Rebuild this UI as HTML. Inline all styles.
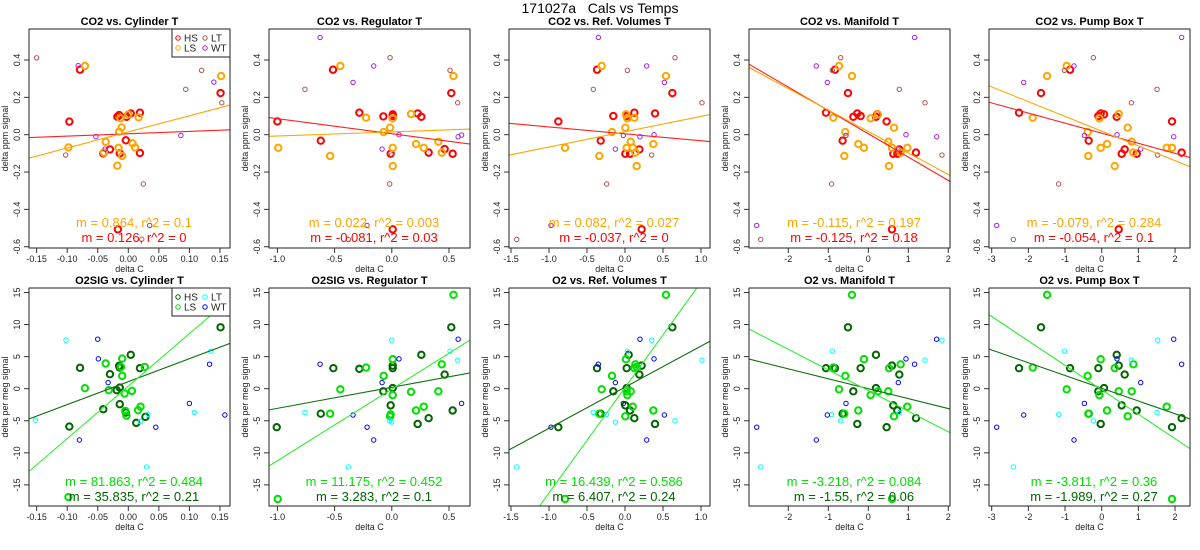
<!DOCTYPE html>
<html><head><meta charset="utf-8">
<style>
html,body{margin:0;padding:0;background:#fff;}
svg{display:block;font-family:"Liberation Sans",Arial,sans-serif;}
</style></head>
<body>
<svg id="chart" width="1200" height="550" viewBox="0 0 1200 550" xmlns="http://www.w3.org/2000/svg">
<rect width="1200" height="550" fill="#fff"/>
<text x="600" y="13" font-size="14" text-anchor="middle" style="white-space:pre" xml:space="preserve">171027a   Cals vs Temps</text>
</svg>
<script>
const panelTitles = [
 ["CO2 vs. Cylinder T","CO2 vs. Regulator T","CO2 vs. Ref. Volumes T","CO2 vs. Manifold T","CO2 vs. Pump Box T"],
 ["O2SIG vs. Cylinder T","O2SIG vs. Regulator T","O2 vs. Ref. Volumes T","O2 vs. Manifold T","O2 vs. Pump Box T"]];
const xTickLabels = [
 ["-0.15","-0.10","-0.05","0.00","0.05","0.10","0.15"],
 ["-1.0","-0.5","0.0","0.5"],
 ["-1.5","-1.0","-0.5","0.0","0.5","1.0"],
 ["-2","-1","0","1","2"],
 ["-3","-2","-1","0","1","2"]];
const yTicksTop = [-0.6,-0.4,-0.2,0.0,0.2,0.4];
const yTicksBottom = [-15,-10,-5,0,5,10,15];
const seriesNamesTop = ["HS","LS","LT","WT"];
const seriesNamesBottom = ["HS","LS","LT","WT"];
const fitLines = [
 [[[0.126,0.005],[0.864,0.015]],[[-0.081,0.005],[0.022,0.015]],[[-0.037,0.0045],[0.082,0.016]],[[-0.125,0.005],[-0.115,0.017]],[[-0.054,0.008],[-0.079,0.019]]],
 [[[35.835,1.1],[81.863,0.4]],[[3.283,0.22],[11.175,-0.06]],[[6.407,0.24],[16.439,0.17]],[[-1.55,0],[-3.218,-0.29]],[[-1.989,0.07],[-3.811,-0.17]]]];
const statsLS = [
 ["m = 0.864, r^2 = 0.1","m = 0.022, r^2 = 0.003","m = 0.082, r^2 = 0.027","m = -0.115, r^2 = 0.197","m = -0.079, r^2 = 0.284"],
 ["m = 81.863, r^2 = 0.484","m = 11.175, r^2 = 0.452","m = 16.439, r^2 = 0.586","m = -3.218, r^2 = 0.084","m = -3.811, r^2 = 0.36"]];
const statsHS = [
 ["m = 0.126, r^2 = 0","m = -0.081, r^2 = 0.03","m = -0.037, r^2 = 0","m = -0.125, r^2 = 0.18","m = -0.054, r^2 = 0.1"],
 ["m = 35.835, r^2 = 0.21","m = 3.283, r^2 = 0.1","m = 6.407, r^2 = 0.24","m = -1.55, r^2 = 0.06","m = -1.989, r^2 = 0.27"]];

const top0HS=[[-0.079,0.348],[-0.0965,0.07],[-0.041,-0.1],[-0.03,-0.079],[-0.015,0.105],[-0.018,0.096],[-0.014,-0.1],[-0.004,-0.03],[-0.003,0.096],[0.004,0.114],[0.019,0.118],[0.019,-0.098],[0.151,0.223],[-0.017,-0.507]];
const top0LS=[[-0.071,0.368],[-0.098,-0.068],[-0.037,-0.038],[-0.04,-0.096],[-0.016,-0.07],[-0.015,0.016],[-0.011,0.039],[-0.013,0.088],[-0.01,-0.114],[-0.018,-0.166],[0,0.109],[0.017,0.093],[0.007,-0.046],[0.011,-0.068],[0.152,0.314]];
const top0LT=[[-0.15,0.412],[-0.1025,-0.109],[0.0245,-0.264],[0.094,0.243],[0.12,0.345],[0.153,0.171],[0.022,-0.56]];
const top0WT=[[-0.082,0.37],[-0.053,-0.01],[-0.038,-0.077],[0.086,-0.004],[0.14,0.282],[0.035,-0.486]];
const top1HS=[[-0.514,0.348],[-1.0,0.071],[-0.621,-0.032],[-0.284,0.118],[-0.074,0.098],[0.008,0.109],[0.008,0.1],[-0.01,-0.102],[0.226,0.114],[0.258,0.096],[0.322,-0.096],[0.462,-0.077],[0.532,-0.102],[0.52,0.223],[0.008,-0.507]];
const top1LS=[[-0.45,0.368],[-0.992,-0.07],[-0.539,-0.114],[-0.225,0.091],[-0.071,0.014],[-0.015,0.0375],[0.008,0.0875],[0.008,-0.07],[0.008,-0.168],[0.168,0.111],[0.212,-0.05],[0.279,-0.07],[0.407,-0.0375],[0.437,-0.096],[0.539,0.314]];
const top1LT=[[-0.015,0.4125],[-0.759,0.243],[0.509,0.345],[0.576,0.171],[-0.018,-0.264],[-0.001,-0.109],[-0.38,-0.561]];
const top1WT=[[-0.627,0.521],[-0.158,0.368],[-0.339,0.28],[0.063,0],[-0.085,-0.077],[0.58,-0.011],[0.61,-0.002],[-0.216,-0.486]];
const top2HS=[[-0.368,0.348],[-0.877,0.071],[-0.32,-0.032],[-0.154,0.1],[0.004,-0.102],[0.066,-0.102],[0.123,0.118],[0.395,0.114],[0.189,-0.079],[0.022,0.1],[0.623,0.223],[0.219,-0.507]];
const top2LS=[[-0.307,0.368],[-0.789,-0.07],[-0.338,-0.114],[-0.171,0.014],[0.004,0.0375],[0.013,0.109],[0.031,0.0875],[0.123,0.091],[0.075,-0.0375],[0.022,-0.07],[0.101,-0.07],[0.136,-0.096],[0.154,-0.168],[0.373,-0.05],[0.539,0.314]];
const top2LT=[[0.658,0.4125],[0.031,0.345],[-0.417,0.243],[1.013,0.171],[0.351,-0.109],[-0.241,-0.264],[-1.425,-0.561]];
const top2WT=[[-0.351,0.521],[0.285,0.368],[0.518,0.28],[-0.022,-0.004],[0.197,-0.011],[0.382,0],[-0.127,-0.077],[-0.974,-0.486]];
const top3HS=[[-0.833,0.348],[-1.058,0.118],[-0.508,0.223],[-0.375,0.096],[-0.275,0.114],[-0.192,0.1],[0.192,0.096],[0.225,0.109],[0.458,0.071],[-0.642,-0.032],[0.625,-0.102],[0.725,-0.102],[0.775,-0.079],[1.192,-0.096],[0.592,-0.507]];
const top3LS=[[-0.733,0.368],[-0.408,0.314],[-0.875,0.091],[-0.575,0.014],[-0.6,-0.114],[-0.25,-0.05],[-0.108,-0.07],[0.058,0.0875],[0.242,0.109],[0.642,0.0375],[0.5,-0.0375],[0.592,-0.07],[0.975,-0.07],[0.808,-0.096],[0.517,-0.168]];
const top3LT=[[-0.692,0.4125],[-0.9,0.345],[0.775,0.243],[1.417,0.171],[1.842,-0.109],[-0.917,-0.264],[-2.69,-0.561]];
const top3WT=[[1.158,0.521],[-1.3,0.368],[-1.025,0.28],[-0.558,-0.004],[0.942,0],[1.708,-0.011],[0.75,-0.077],[-2.79,-0.486]];
const top4HS=[[-0.864,0.348],[-2.255,0.118],[-1.655,0.223],[-0.091,0.1],[-0.027,0.114],[0.064,0.109],[0.409,0.096],[1.918,0.071],[-0.355,-0.032],[0.545,-0.102],[0.627,-0.079],[0.955,-0.102],[2.18,-0.096],[0.464,-0.507]];
const top4LS=[[-0.955,0.368],[-1.49,0.314],[-1.88,0.091],[-0.382,0.014],[-0.364,-0.114],[-0.064,0.0875],[0.464,0.111],[0.709,0.0375],[-0.027,-0.07],[0.145,-0.05],[0.818,-0.0375],[0.864,-0.096],[1.773,-0.07],[1.918,-0.07],[0.355,-0.168]];
const top4LT=[[-0.227,0.4125],[-1.018,0.345],[1.509,0.243],[0.809,0.171],[1.527,-0.109],[-1.173,-0.264],[-2.41,-0.561]];
const top4WT=[[2.18,0.521],[-0.755,0.368],[-2.127,0.28],[0.418,0],[-0.473,-0.004],[1.964,-0.011],[1.064,-0.077],[-2.864,-0.486]];

const bot0HS=[[0.151,9.58],[-0.079,3.25],[-0.0965,-5.9],[-0.041,-3.2],[-0.03,2.26],[-0.015,3.56],[-0.014,3.3],[-0.014,0.18],[-0.014,-2.42],[-0.019,-0.23],[-0.004,-3.72],[0.004,5.28],[0.019,3.2],[0.013,-5.33],[0.028,-4.39]];
const bot0LS=[[-0.071,0.08],[-0.098,-16.9],[-0.037,3.93],[-0.032,-0.23],[-0.01,4.7],[-0.01,2.0],[-0.006,-0.75],[-0.012,3.4],[-0.005,-3.46],[-0.003,-4.19],[0.006,-0.34],[0.027,3.4],[0.016,-3.35],[0.02,-2.8]];
const bot0LT=[[-0.102,7.57],[-0.152,-4.9],[0.135,5.85],[0.17,4.45],[0.108,-3.7],[0.03,-12.2],[0.02,-5.1],[0.032,-4.0]];
const bot0WT=[[-0.05,7.72],[-0.049,4.65],[-0.033,0.95],[-0.08,-8.0],[0.1,-2.3],[0.133,3.82],[0.158,-4.1],[0.045,-6.0]];
const bot1HS=[[-1.006,-6.0],[-0.621,-3.9],[-0.511,3.2],[-0.284,3.1],[-0.074,-0.4],[-0.01,-2.6],[0.008,3.6],[0.008,0.1],[0.258,5.28],[0.226,-5.5],[0.322,-4.6],[0.462,2.2],[0.52,9.58],[0.532,-3.4],[0.008,3.2]];
const bot1LS=[[-0.997,-17.2],[-0.539,-3.9],[-0.45,-0.1],[-0.225,3.3],[-0.071,2.0],[-0.015,-4.3],[0.008,4.6],[0.008,-1.0],[0.168,-0.5],[0.212,-3.4],[0.279,-2.8],[0.407,-0.4],[0.437,3.8],[0.539,14.64],[-0.01,-4.0]];
const bot1LT=[[0,7.57],[-0.759,-3.7],[0.509,5.85],[0.576,4.45],[-0.018,-5.0],[-0.38,-12.2],[0.0,-5.2]];
const bot1WT=[[-0.627,3.82],[-0.158,-8.0],[-0.339,-4.1],[0.063,4.65],[-0.085,0.95],[0.58,7.72],[0.61,-2.3],[-0.216,-6.0]];
const bot2HS=[[-0.877,-6.0],[-0.368,3.2],[-0.32,-3.9],[-0.154,-0.4],[0.004,-2.6],[0.022,3.2],[0.048,5.28],[0.022,0.1],[0.066,-3.4],[0.123,-4.6],[0.189,2.2],[0.219,3.6],[0.395,-5.5],[0.623,9.58]];
const bot2LS=[[-0.789,-17.2],[-0.307,-0.1],[-0.338,-3.9],[-0.171,2.0],[0.004,-4.3],[0.013,4.6],[0.031,-1.0],[0.022,-0.4],[0.075,-0.4],[0.101,-2.8],[0.136,3.8],[0.123,3.2],[0.373,-3.4],[0.539,14.64],[0.154,3.4]];
const bot2LT=[[0.031,5.85],[0.351,7.57],[1.013,4.45],[0.658,-5.0],[-0.417,-3.7],[-0.127,-5.2],[-1.425,-12.2],[-0.241,-4.0]];
const bot2WT=[[-0.351,3.82],[0.197,7.72],[0.382,4.65],[-0.127,0.95],[-0.022,-2.3],[0.285,-8.0],[0.518,-4.1],[-0.974,-6.0]];
const bot3HS=[[-0.508,9.58],[-1.058,3.2],[-0.833,3.2],[-0.192,3.2],[0.192,5.28],[0.592,3.6],[0.775,2.2],[-0.375,-0.4],[0.192,0.1],[0.625,-2.6],[0.725,-3.4],[1.192,-4.6],[-0.642,-3.9],[-0.275,-5.5],[0.458,-6.0]];
const bot3LS=[[-0.408,14.64],[-0.875,3.3],[-0.108,4.6],[-0.575,2.0],[-0.733,-0.1],[0.058,-1.0],[0.242,-0.4],[0.5,-0.4],[0.517,3.2],[0.808,3.8],[0.975,-2.8],[-0.6,-3.9],[-0.25,-3.4],[0.642,-4.3],[0.592,-17.2]];
const bot3LT=[[-0.9,5.85],[1.842,7.57],[1.417,4.45],[0.775,-3.7],[-0.692,-5.0],[-2.69,-12.2],[-0.917,-4.0]];
const bot3WT=[[1.708,7.72],[0.942,4.65],[1.158,3.82],[0.75,0.95],[-0.558,-2.3],[-1.025,-4.1],[-2.79,-6.0],[-1.3,-8.0]];
const bot4HS=[[-1.655,9.58],[-2.255,3.2],[-0.864,3.2],[-0.091,3.2],[0.409,5.28],[0.464,3.6],[0.627,2.2],[-0.091,-0.4],[0.064,0.1],[0.545,-2.6],[0.955,-3.4],[2.18,-4.6],[-0.355,-3.9],[-0.027,-5.5],[1.918,-6.0]];
const bot4LS=[[-1.49,14.64],[-1.88,3.3],[-0.027,4.6],[-0.382,2.0],[-0.955,-0.1],[-0.064,-1.0],[0.464,-0.4],[0.818,-0.4],[0.355,3.2],[0.864,3.8],[1.773,-2.8],[-0.364,-3.9],[0.145,-3.4],[0.709,-4.3],[1.918,-17.2]];
const bot4LT=[[-1.018,5.85],[1.527,7.57],[0.809,4.45],[1.509,-3.7],[-0.227,-5.0],[-2.41,-12.2],[-1.173,-4.0]];
const bot4WT=[[1.964,7.72],[0.418,4.65],[2.18,3.82],[1.064,0.95],[-0.473,-2.3],[-2.127,-4.1],[-2.864,-6.0],[-0.755,-8.0]];

const points = [
 [[top0HS,top0LS,top0LT,top0WT],[top1HS,top1LS,top1LT,top1WT],[top2HS,top2LS,top2LT,top2WT],[top3HS,top3LS,top3LT,top3WT],[top4HS,top4LS,top4LT,top4WT]],
 [[bot0HS,bot0LS,bot0LT,bot0WT],[bot1HS,bot1LS,bot1LT,bot1WT],[bot2HS,bot2LS,bot2LT,bot2WT],[bot3HS,bot3LS,bot3LT,bot3WT],[bot4HS,bot4LS,bot4LT,bot4WT]]];

const NS="http://www.w3.org/2000/svg";
const svg=document.getElementById('chart');
const colors=[["#ff0000","#ffa500","#b5524e","#a020f0"],["#006400","#00e000","#00ffff","#0000ff"]];
const lineColors=[["#ff2020","#ffa500"],["#107010","#30ee30"]];
const xZero=[128.3,151.8,145,148.3,141.7];
const xScale=[611,114.4,76,40,36.67];
const xMin=[-0.1626,-1.073,-1.526,-2.98,-3.07];
const xMax=[0.1664,0.684,1.118,2.04,2.41];
const boxTop=[29,288], boxBot=[248,506];
const yZero=[134.7,388.7], yScale=[186.7,6.413];
function mk(tag,attrs,parent){const e=document.createElementNS(NS,tag);for(const k in attrs)e.setAttribute(k,attrs[k]);(parent||svg).appendChild(e);return e;}
function sx(c,v){return c*240+xZero[c]+v*xScale[c];}
function sy(r,v){return yZero[r]-v*yScale[r];}

for(let r=0;r<2;r++){
 for(let c=0;c<5;c++){
  const g=mk('g',{});
  
  
  const L=c*240+29,R=c*240+230,T=boxTop[r],B=boxBot[r];
  const clipId='clip'+r+c;
  const cp=mk('clipPath',{id:clipId},g);mk('rect',{x:L,y:T,width:R-L,height:B-T},cp);
  const t=mk('text',{x:(L+R)/2,y:T-4,'font-size':11,'font-weight':'bold','text-anchor':'middle'},g);
  t.textContent=panelTitles[r][c];
  
  
  const yt=r?yTicksBottom:yTicksTop;
  const ya=mk('g',{},g);
  
  
  mk('line',{x1:L,x2:L,y1:sy(r,yt[0]),y2:sy(r,yt[yt.length-1]),stroke:'#333','stroke-width':1},ya);
  yt.forEach(v=>{const y=sy(r,v);mk('line',{x1:L-5,x2:L,y1:y,y2:y,stroke:'#333'},ya);
   const tx=mk('text',{x:c*240+20,y:y,'font-size':9,'text-anchor':'middle',transform:`rotate(-90 ${c*240+20} ${y})`,fill:'#222'},ya);
   tx.textContent=r?String(v):v.toFixed(1);
   
   });
  const yl=mk('text',{x:c*240+8,y:(T+B)/2,'font-size':9,'text-anchor':'middle',transform:`rotate(-90 ${c*240+8} ${(T+B)/2})`,fill:'#222'},g);
  yl.textContent=r?'delta per meg signal':'delta ppm signal';
  
  
  const xa=mk('g',{},g);
  
  
  const xl=xTickLabels[c];
  mk('line',{x1:sx(c,+xl[0]),x2:sx(c,+xl[xl.length-1]),y1:B,y2:B,stroke:'#333'},xa);
  xl.forEach(s=>{const x=sx(c,+s);mk('line',{x1:x,x2:x,y1:B,y2:B+5,stroke:'#333'},xa);
   const tx=mk('text',{x:x,y:B+14,'font-size':9,'text-anchor':'middle',fill:'#222'},xa);tx.textContent=s;
   
   });
  const xt=mk('text',{x:(L+R)/2,y:B+24,'font-size':9,'text-anchor':'middle',fill:'#222'},g);xt.textContent='delta C';
  
  
  const pg=mk('g',{'clip-path':`url(#${clipId})`},g);
  points[r][c].forEach((arr,s)=>{
   const big=s<2;
   arr.forEach(p=>{
    const ci=mk('circle',{cx:sx(c,p[0]),cy:sy(r,p[1]),r:big?3.2:2.2,fill:'none',stroke:colors[r][s],'stroke-width':big?2:1},pg);
    
    
   });
  });
  fitLines[r][c].forEach((f,s)=>{
   const ln=mk('line',{x1:sx(c,xMin[c]),y1:sy(r,f[0]*xMin[c]+f[1]),x2:sx(c,xMax[c]),y2:sy(r,f[0]*xMax[c]+f[1]),stroke:lineColors[r][s],'stroke-width':1.1},pg);
   
   
  });
  const s1=mk('text',{x:c*240+134,y:r?486:227,'font-size':13,'text-anchor':'middle',fill:colors[r][1]},g);s1.textContent=statsLS[r][c];
  
  
  const s2=mk('text',{x:c*240+134,y:r?501:242,'font-size':13,'text-anchor':'middle',fill:r?colors[r][0]:'#ff0000'},g);s2.textContent=statsHS[r][c];
  
  
  mk('rect',{x:L,y:T,width:R-L,height:B-T,fill:'none',stroke:'#222','stroke-width':1},g);
  if(c===0){
   const lg=mk('g',{},g);
   
   
   mk('rect',{x:172,y:T,width:58,height:28,fill:'#fff',stroke:'#222'},lg);
   const names=r?seriesNamesBottom:seriesNamesTop;
   const pos=[[178,T+9],[178,T+19],[205,T+9],[205,T+19]];
   names.forEach((n,i)=>{
    const e=mk('g',{},lg);
    
    
    mk('circle',{cx:pos[i][0],cy:pos[i][1],r:2.2,fill:'none',stroke:colors[r][i],'stroke-width':1},e);
    const tx=mk('text',{x:pos[i][0]+6,y:pos[i][1]+3.5,'font-size':10,fill:'#222'},e);tx.textContent=n;
   });
  }
 }
}
</script>
</body></html>
